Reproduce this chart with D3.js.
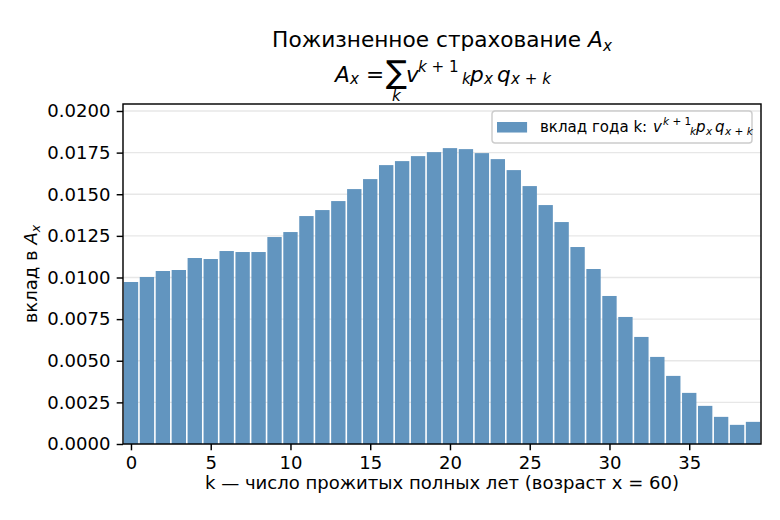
<!DOCTYPE html>
<html>
<head>
<meta charset="utf-8">
<script src="https://cdn.jsdelivr.net/npm/d3@7"></script>
<style>
  body { margin: 0; background: #fff; }
  svg { font-family: "DejaVu Sans", sans-serif; }
</style>
</head>
<body>
<div id="chart-area"></div>
<script>
// data
const years = d3.range(0, 40);
const contrib = [
  0.00973, 0.01003, 0.01039, 0.01045, 0.01117, 0.01111, 0.01159, 0.01153, 0.01153, 0.01243,
  0.01273, 0.01369, 0.01405, 0.01459, 0.01531, 0.01591, 0.01675, 0.01699, 0.01729, 0.01753,
  0.01777, 0.01771, 0.01747, 0.01711, 0.01645, 0.01549, 0.01435, 0.01333, 0.01183, 0.01051,
  0.00889, 0.00763, 0.00643, 0.00523, 0.00409, 0.00307, 0.00229, 0.00163, 0.00115, 0.00133
];
const xTicks = [0, 5, 10, 15, 20, 25, 30, 35];
const yTicks = [0, 0.0025, 0.005, 0.0075, 0.01, 0.0125, 0.015, 0.0175, 0.02];

// figure is 6x4 in at 130 dpi -> 1pt = 1.806px
const pt = 130 / 72;
const fs = 10 * pt, fsTitle = 12 * pt, fsLegend = 8.33 * pt;

const margin = {left: 123, right: 19, top: 104, bottom: 76};
const width = 780 - margin.left - margin.right;
const height = 520 - margin.top - margin.bottom;
const barColor = '#6295bf';

const svg = d3.select('#chart-area')
  .append('svg')
  .attr('width', 780)
  .attr('height', 520);

const g = svg.append('g')
  .attr('transform', `translate(${margin.left}, ${margin.top})`);

const x = d3.scaleLinear().domain([-0.5, 39.5]).range([0, width]);
const y = d3.scaleLinear().domain([0, 0.02042]).range([height, 0]);

// grid
g.selectAll('.grid')
  .data(yTicks)
  .enter().append('line')
  .attr('x1', 0).attr('x2', width)
  .attr('y1', d => y(d)).attr('y2', d => y(d))
  .attr('stroke', '#b0b0b0')
  .attr('stroke-opacity', 0.3)
  .attr('stroke-width', 0.8 * pt);

// bars
g.selectAll('rect.bar')
  .data(years)
  .enter().append('rect')
  .attr('class', 'bar')
  .attr('x', k => x(k - 0.45))
  .attr('width', x(0.9) - x(0))
  .attr('y', k => y(contrib[k]))
  .attr('height', k => y(0) - y(contrib[k]))
  .attr('fill', barColor);

// axes
const xAxis = g.append('g')
  .attr('transform', `translate(0, ${height})`)
  .call(d3.axisBottom(x).tickValues(xTicks).tickSize(3.5 * pt).tickPadding(3.5 * pt).tickFormat(d3.format('d')));
const yAxis = g.append('g')
  .call(d3.axisLeft(y).tickValues(yTicks).tickSize(3.5 * pt).tickPadding(3.5 * pt).tickFormat(d3.format('.4f')));
[xAxis, yAxis].forEach(a => {
  a.attr('font-family', null).attr('font-size', null);
  a.select('.domain').remove();
  a.selectAll('text').attr('font-size', fs + 'px').attr('fill', '#000');
  a.selectAll('line').attr('stroke', '#000').attr('stroke-width', 0.8 * pt);
});

// frame
g.append('rect')
  .attr('width', width).attr('height', height)
  .attr('fill', 'none').attr('stroke', '#000').attr('stroke-width', 0.8 * pt);

// x label
g.append('text')
  .attr('x', width / 2)
  .attr('y', height + 45)
  .attr('font-size', fs + 'px')
  .attr('text-anchor', 'middle')
  .text('k — число прожитых полных лет (возраст x = 60)');

// y label
const yl = g.append('text')
  .attr('transform', `translate(-86, ${height / 2}) rotate(-90)`)
  .attr('font-size', fs + 'px')
  .attr('text-anchor', 'middle');
yl.append('tspan').text('вклад в ');
yl.append('tspan').attr('font-style', 'italic').text('A');
yl.append('tspan').attr('font-style', 'italic').attr('font-size', (fs * 0.7) + 'px').attr('dy', 3).text('x');

// title line 1
const cx = margin.left + width / 2;
const t1 = svg.append('text')
  .attr('x', cx).attr('y', 47)
  .attr('font-size', fsTitle + 'px')
  .attr('text-anchor', 'middle');
t1.append('tspan').text('Пожизненное страхование ');
t1.append('tspan').attr('font-style', 'italic').text('A');
t1.append('tspan').attr('font-style', 'italic').attr('font-size', (fsTitle * 0.7) + 'px').attr('dy', 4).text('x');

// small helper for math pieces: [x offset, y offset, size factor, html, upright, anchor]
function mathPieces(parent, x0, y0, size, pieces) {
  pieces.forEach(([dx, dy, s, html, upright, anchor]) => {
    parent.append('text')
      .attr('x', x0 + dx).attr('y', y0 + dy)
      .attr('font-size', (size * s) + 'px')
      .attr('font-style', upright ? 'normal' : 'italic')
      .attr('text-anchor', anchor || 'start')
      .html(html);
  });
}

// title line 2 (formula)
const up = '<tspan font-style="normal">';
mathPieces(svg.append('g'), 335, 82, fsTitle, [
  [0, 0, 1, 'A'],
  [15, 2, 0.7, 'x'],
  [31, 0, 1, '=', true],
  [61.5, 1, 1.45, '∑', true, 'middle'],
  [61.5, 19, 0.7, 'k', false, 'middle'],
  [71, 0, 1, 'v'],
  [83, -10, 0.7, 'k' + up + ' + 1</tspan>'],
  [127, 2, 0.7, 'k'],
  [135, 0, 1, 'p'],
  [149, 2, 0.7, 'x'],
  [162, 0, 1, 'q'],
  [176, 2, 0.7, 'x' + up + ' + </tspan>k']
]);

// legend
const lg = svg.append('g').attr('transform', 'translate(492, 111)');
lg.append('rect')
  .attr('width', 260).attr('height', 32).attr('rx', 3)
  .attr('fill', '#fff').attr('fill-opacity', 0.8)
  .attr('stroke', '#cccccc').attr('stroke-width', 0.8 * pt);
lg.append('rect')
  .attr('x', 5).attr('y', 11).attr('width', 2 * fsLegend).attr('height', 0.7 * fsLegend)
  .attr('fill', barColor);
lg.append('text').attr('x', 48).attr('y', 21).attr('font-size', fsLegend + 'px')
  .text('вклад года k:');
mathPieces(lg, 161, 21, fsLegend, [
  [0, 0, 1, 'v'],
  [10, -7, 0.7, 'k' + up + ' + 1</tspan>'],
  [37, 3, 0.7, 'k'],
  [43, 0, 1, 'p'],
  [53, 3, 0.7, 'x'],
  [62, 0, 1, 'q'],
  [72, 3, 0.7, 'x' + up + ' + </tspan>k']
]);
</script>
</body>
</html>
